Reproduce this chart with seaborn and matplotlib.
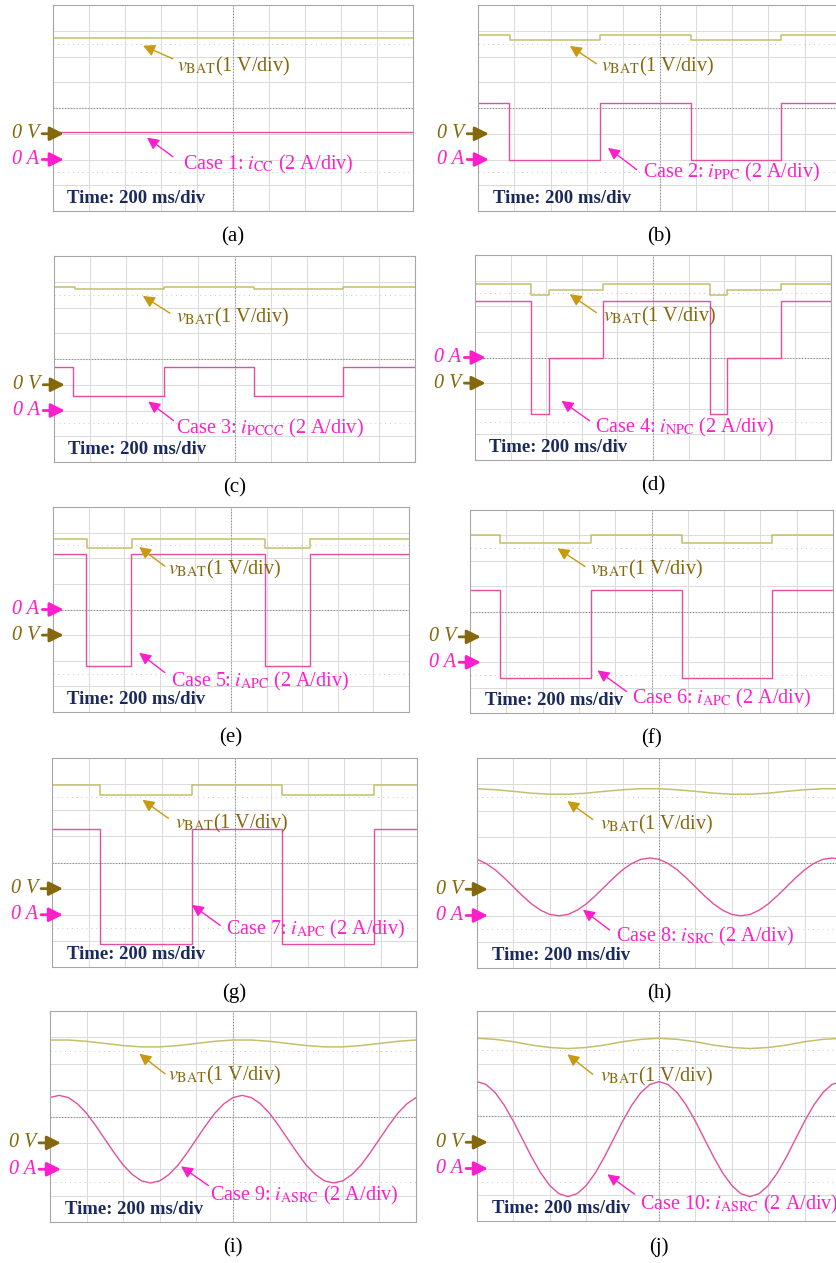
import matplotlib
matplotlib.use("Agg")
import matplotlib.pyplot as plt
import seaborn as sns
import numpy as np
import pandas as pd

sns.set_style("white")
plt.rcParams["font.family"] = ["Liberation Serif", "DejaVu Serif"]
plt.rcParams["mathtext.fontset"] = "stix"

# values are in screen divisions (x: 0..10, y: -4..4, centre = 0)
# (a) case 1
a_v_t, a_v = [0], [2.70]
a_i_t, a_i = [0], [-0.93]
# (b) case 2
b_v_t = [0, 0.87, 3.35, 5.88, 8.35]
b_v = [2.85, 2.63, 2.85, 2.63, 2.85]
b_i_t = [0, 0.85, 3.35, 5.86, 8.35]
b_i = [0.18, -2.01, 0.18, -2.01, 0.18]
# (c) case 3
c_v_t = [0, 0.58, 3.05, 5.54, 8.01]
c_v = [2.78, 2.70, 2.78, 2.70, 2.78]
c_i_t = [0, 0.54, 3.05, 5.54, 8.01]
c_i = [-0.32, -1.43, -0.32, -1.43, -0.32]
# (d) case 4
d_v_t = [0, 1.57, 2.07, 3.60, 6.59, 7.08, 8.60]
d_v = [2.86, 2.43, 2.64, 2.86, 2.43, 2.64, 2.86]
d_i_t = [0, 1.57, 2.07, 3.60, 6.59, 7.08, 8.60]
d_i = [2.21, -2.21, 0.0, 2.21, -2.21, 0.0, 2.21]
# (e) case 5
e_v_t = [0, 0.96, 2.23, 5.95, 7.23]
e_v = [2.76, 2.39, 2.76, 2.39, 2.76]
e_i_t = [0, 0.94, 2.20, 5.95, 7.21]
e_i = [2.18, -2.20, 2.18, -2.20, 2.18]
# (f) case 6
f_v_t = [0, 0.84, 3.33, 5.83, 8.32]
f_v = [3.03, 2.71, 3.03, 2.71, 3.03]
f_i_t = [0, 0.83, 3.33, 5.83, 8.32]
f_i = [0.83, -2.62, 0.83, -2.62, 0.83]
# (g) case 7
g_v_t = [0, 1.31, 3.83, 6.31, 8.81]
g_v = [2.96, 2.58, 2.96, 2.58, 2.96]
g_i_t = [0, 1.31, 3.83, 6.31, 8.81]
g_i = [1.28, -3.12, 1.28, -3.12, 1.28]

# sinusoidal cases, sampled every 0.5 div (voltage) and 0.25 div (current)
t_half = np.arange(21) * 0.5
t_quarter = np.arange(41) * 0.25
# (h) case 8
h_v = [2.83, 2.79, 2.73, 2.66, 2.62, 2.62, 2.66, 2.73, 2.79, 2.83, 2.83,
       2.79, 2.73, 2.66, 2.62, 2.62, 2.66, 2.73, 2.79, 2.83, 2.83]
h_i = [0.14, -0.02, -0.26, -0.57, -0.91, -1.25, -1.56, -1.80, -1.96, -2.01,
       -1.96, -1.80, -1.56, -1.25, -0.91, -0.57, -0.26, -0.02, 0.14, 0.19,
       0.14, -0.02, -0.26, -0.57, -0.91, -1.25, -1.56, -1.80, -1.96, -2.01,
       -1.96, -1.80, -1.56, -1.25, -0.91, -0.57, -0.26, -0.02, 0.14, 0.19, 0.14]
# (i) case 9
i_v = [2.90, 2.90, 2.85, 2.77, 2.69, 2.64, 2.64, 2.69, 2.77, 2.85, 2.90,
       2.90, 2.85, 2.77, 2.69, 2.64, 2.64, 2.69, 2.77, 2.85, 2.90]
i_i = [0.72, 0.80, 0.72, 0.48, 0.12, -0.35, -0.86, -1.37, -1.84, -2.20,
       -2.44, -2.52, -2.44, -2.20, -1.84, -1.37, -0.86, -0.35, 0.12, 0.48,
       0.72, 0.80, 0.72, 0.48, 0.12, -0.35, -0.86, -1.37, -1.84, -2.20,
       -2.44, -2.52, -2.44, -2.20, -1.84, -1.37, -0.86, -0.35, 0.12, 0.48, 0.72]
# (j) case 10
j_v = [2.96, 2.92, 2.83, 2.70, 2.61, 2.57, 2.61, 2.70, 2.83, 2.92, 2.96,
       2.92, 2.83, 2.70, 2.61, 2.57, 2.61, 2.70, 2.83, 2.92, 2.96]
j_i = [1.31, 1.20, 0.89, 0.41, -0.20, -0.88, -1.56, -2.17, -2.65, -2.96,
       -3.07, -2.96, -2.65, -2.17, -1.56, -0.88, -0.20, 0.41, 0.89, 1.20,
       1.31, 1.20, 0.89, 0.41, -0.20, -0.88, -1.56, -2.17, -2.65, -2.96,
       -3.07, -2.96, -2.65, -2.17, -1.56, -0.88, -0.20, 0.41, 0.89, 1.20, 1.31]

case_labels = [
    r"Case 1: $i_{\mathrm{CC}}$ (2 A/div)",
    r"Case 2: $i_{\mathrm{PPC}}$ (2 A/div)",
    r"Case 3: $i_{\mathrm{PCCC}}$ (2 A/div)",
    r"Case 4: $i_{\mathrm{NPC}}$ (2 A/div)",
    r"Case 5: $i_{\mathrm{APC}}$ (2 A/div)",
    r"Case 6: $i_{\mathrm{APC}}$ (2 A/div)",
    r"Case 7: $i_{\mathrm{APC}}$ (2 A/div)",
    r"Case 8: $i_{\mathrm{SRC}}$ (2 A/div)",
    r"Case 9: $i_{\mathrm{ASRC}}$ (2 A/div)",
    r"Case 10: $i_{\mathrm{ASRC}}$ (2 A/div)",
]
tags = ["(a)", "(b)", "(c)", "(d)", "(e)", "(f)", "(g)", "(h)", "(i)", "(j)"]

# colours
V_TRACE = "#c4bf6e"
I_TRACE = "#e4509e"
V_TEXT = "#86680c"
V_ARROW = "#c89a10"
I_TEXT = "#ff1ecb"
GRID = "#dadada"
NAVY = "#1b2a5c"

W, H = 836, 1263
fig = plt.figure(figsize=(W / 100, H / 100), dpi=100)

# layout: box in pixels (left, top, right, bottom), zero markers, arrow / text positions (div)
layout = [
    dict(box=(53, 5, 413, 211), zv=-1, za=-2, vh=(2.50, 2.42), vt=(3.33, 1.91), vx=(3.44, 1.60),
         ch=(2.61, -1.15), ct=(3.33, -1.89), cx=(3.61, -2.20)),
    dict(box=(478, 5, 841, 211), zv=-1, za=-2, vh=(2.53, 2.41), vt=(3.26, 1.72), vx=(3.40, 1.61),
         ch=(3.58, -1.55), ct=(4.37, -2.39), cx=(4.55, -2.52)),
    dict(box=(54, 256, 415, 462), zv=-1, za=-2, vh=(2.46, 2.45), vt=(3.21, 1.78), vx=(3.37, 1.61),
         ch=(2.61, -1.65), ct=(3.31, -2.39), cx=(3.37, -2.71)),
    dict(box=(475, 255, 831, 460), zv=-1, za=0, vh=(2.66, 2.47), vt=(3.41, 1.75), vx=(3.60, 1.62),
         ch=(2.43, -1.69), ct=(3.22, -2.47), cx=(3.36, -2.73)),
    dict(box=(53, 507, 409, 712), zv=-1, za=0, vh=(2.42, 2.44), vt=(3.14, 1.69), vx=(3.23, 1.56),
         ch=(2.42, -1.69), ct=(3.14, -2.46), cx=(3.32, -2.79)),
    dict(box=(470, 510, 833, 713), zv=-1, za=-2, vh=(2.41, 2.49), vt=(3.17, 1.77), vx=(3.30, 1.64),
         ch=(3.51, -2.32), ct=(4.31, -3.15), cx=(4.45, -3.41)),
    dict(box=(52, 758, 417, 967), zv=-1, za=-2, vh=(2.48, 2.40), vt=(3.19, 1.69), vx=(3.37, 1.50),
         ch=(3.83, -1.62), ct=(4.61, -2.41), cx=(4.78, -2.56)),
    dict(box=(477, 758, 841, 968), zv=-1, za=-2, vh=(2.48, 2.36), vt=(3.18, 1.66), vx=(3.37, 1.46),
         ch=(2.91, -1.78), ct=(3.64, -2.55), cx=(3.83, -2.80)),
    dict(box=(50, 1011, 416, 1222), zv=-1, za=-2, vh=(2.44, 2.38), vt=(3.14, 1.62), vx=(3.23, 1.56),
         ch=(3.58, -1.89), ct=(4.33, -2.62), cx=(4.37, -3.00)),
    dict(box=(477, 1011, 841, 1221), zv=-1, za=-2, vh=(2.48, 2.35), vt=(3.18, 1.59), vx=(3.37, 1.52),
         ch=(3.58, -2.22), ct=(4.33, -2.98), cx=(4.47, -3.37)),
]

series = [
    (a_v_t, a_v, a_i_t, a_i, True),
    (b_v_t, b_v, b_i_t, b_i, True),
    (c_v_t, c_v, c_i_t, c_i, True),
    (d_v_t, d_v, d_i_t, d_i, True),
    (e_v_t, e_v, e_i_t, e_i, True),
    (f_v_t, f_v, f_i_t, f_i, True),
    (g_v_t, g_v, g_i_t, g_i, True),
    (t_half, h_v, t_quarter, h_i, False),
    (t_half, i_v, t_quarter, i_i, False),
    (t_half, j_v, t_quarter, j_i, False),
]


def trace(ax, t, y, color, lw, steps):
    t, y = list(t), list(y)
    if steps:
        t, y = t + [10], y + [y[-1]]
    df = pd.DataFrame({"t": t, "y": y})
    sns.lineplot(data=df, x="t", y="y", ax=ax, color=color, lw=lw, estimator=None, sort=False,
                 drawstyle="steps-post" if steps else "default")


for k, (lay, ser) in enumerate(zip(layout, series)):
    l, t, r, b = lay["box"]
    ax = fig.add_axes([l / W, 1 - b / H, (r - l) / W, (b - t) / H])
    ax.set_facecolor("white")

    # scope graticule
    for xv in range(1, 10):
        ax.axvline(xv, color=GRID, lw=0.7, zorder=0)
    for yv in range(-3, 4):
        ax.axhline(yv, color=GRID, lw=0.7, zorder=0)
    for yv in (2.5, -2.5):
        ax.axhline(yv, color="#c8c8c8", lw=0.7, ls=(0, (1, 4)), zorder=0)
    ax.axvline(5, color="#8a8a8a", lw=0.8, ls=(0, (1, 1.6)), zorder=0.5)
    ax.axhline(0, color="#8a8a8a", lw=0.8, ls=(0, (1, 1.6)), zorder=0.5)

    vt_, vv, it_, iv, steps = ser
    trace(ax, vt_, vv, V_TRACE, 1.1, steps)
    trace(ax, it_, iv, I_TRACE, 1.0, steps)

    ax.set_xlim(0, 10)
    ax.set_ylim(-4, 4)
    ax.set_xticks([])
    ax.set_yticks([])
    ax.set_xlabel("")
    ax.set_ylabel("")
    for sp in ax.spines.values():
        sp.set_color("#a6a6a6")
        sp.set_linewidth(0.8)

    # labels with arrows
    ax.annotate("", xy=lay["vh"], xytext=lay["vt"],
                arrowprops=dict(arrowstyle="-|>,head_length=0.5,head_width=0.25", color=V_ARROW,
                                lw=1.0, shrinkA=0, shrinkB=0, mutation_scale=14))
    ax.text(*lay["vx"], r"$v_{\mathrm{BAT}}$(1 V/div)", color=V_TEXT, fontsize=14.5,
            ha="left", va="center")
    ax.annotate("", xy=lay["ch"], xytext=lay["ct"],
                arrowprops=dict(arrowstyle="-|>,head_length=0.5,head_width=0.25", color=I_TEXT,
                                lw=1.0, shrinkA=0, shrinkB=0, mutation_scale=14))
    ax.text(*lay["cx"], case_labels[k], color=I_TEXT, fontsize=14.5, ha="left", va="center")

    ax.text(0.4, -3.52, "Time: 200 ms/div", color=NAVY, fontsize=13.5, fontweight="bold",
            ha="left", va="center")

    # zero reference markers
    for yz, txt, col in ((lay["zv"], "0 V", V_TEXT), (lay["za"], "0 A", I_TEXT)):
        ax.annotate("", xy=(0.3, yz), xytext=(-0.3, yz), annotation_clip=False,
                    arrowprops=dict(arrowstyle="-|>,head_length=0.6,head_width=0.3", color=col,
                                    lw=2.0, shrinkA=0, shrinkB=0, mutation_scale=14))
        ax.text(-0.38, yz, txt, color=col, fontsize=14.5, style="italic", ha="right", va="center")

    fig.text((l + min(r, 841)) / 2 / W, 1 - (b + 26) / H, tags[k], fontsize=15,
             ha="center", va="center", color="black")

fig.savefig("out.png", dpi=100, facecolor="white")
